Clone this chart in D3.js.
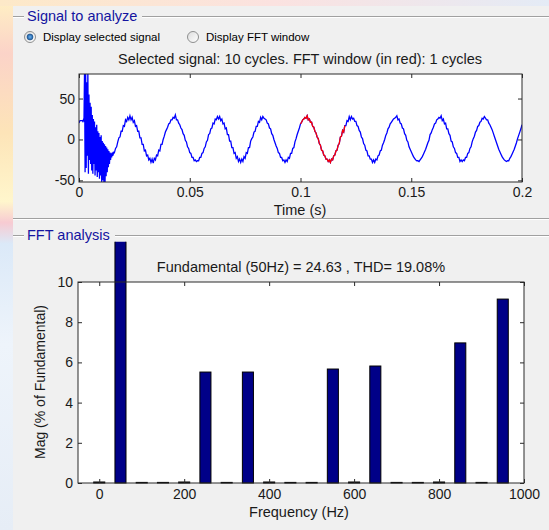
<!DOCTYPE html>
<html>
<head>
<meta charset="utf-8">
<script src="https://cdn.jsdelivr.net/npm/d3@7"></script>
<style>
  body { margin: 0; background: #f0f0f0; }
  svg { display: block; font-family: "Liberation Sans", Arial, sans-serif; }
</style>
</head>
<body>
<svg id="fig" width="549" height="530"></svg>
<script>
// ---- signal ----
// start-up transient, sampled every 0.25 ms from t = 0
var startupStep = 0.00025;
var startup = [
  20, 22, 23, 23, 23, 23, 23, 22, 24, 23,
  85, -40, 88, -35, 70, -20, 85, -42, 55, -25,
  45, -30, 40, -38, 30, -42, 25, -30, 22, -44,
  15, -38, 18, -46, 10, -40, 8, -48, 3, -44,
  5, -52, -2, -50, -4, -55, -6, -54, -8, -45,
  -10, -40, -12, -34, -14, -30, -16, -25, -17, -22,
  -16, -20, -15, -17
];
// steady part, sampled every 0.5 ms from t = 0.016
var steadyStart = 0.016;
var steadyStep = 0.0005;
var steady = [
  -16, -11, -9, -3,
  2, 3, 10, 10, 17, 16, 24, 22, 27, 24, 29, 24, 27, 21, 23, 16, 17, 10, 10, 2,
  2, -6, -6, -14, -13, -20, -19, -25, -23, -28, -24, -29, -23, -25, -19, -20, -13, -14, -6, -6,
  0, 4, 9, 12, 15, 19, 20, 24, 24, 27, 26, 30, 24, 24, 20, 18, 14, 12, 7, 5,
  -1, -3, -9, -11, -16, -17, -22, -22, -26, -25, -27, -26, -26, -22, -22, -17, -16, -11, -9, -3,
  -1, 6, 7, 13, 14, 20, 19, 25, 24, 28, 25, 28, 23, 25, 19, 20, 13, 14, 6, 6,
  -2, -2, -10, -10, -17, -16, -23, -21, -27, -24, -28, -24, -27, -21, -23, -16, -17, -10, -10, -2,
  1, 3, 9, 10, 16, 16, 22, 21, 27, 24, 28, 26, 25, 24, 20, 19, 14, 13, 7, 5,
  0, -4, -8, -11, -16, -17, -22, -22, -26, -25, -28, -25, -27, -22, -23, -17, -17, -11, -10, -3,
  1, 6, 10, 14, 19, 21, 24, 25, 27, 26, 29, 24, 25, 21, 21, 16, 15, 10, 8, 3,
  1, -5, -7, -13, -14, -19, -20, -24, -24, -27, -25, -28, -24, -25, -20, -19, -14, -13, -7, -5,
  3, 4, 11, 9, 17, 17, 23, 22, 28, 24, 28, 25, 26, 22, 22, 17, 16, 11, 9, 3,
  1, -5, -7, -13, -14, -20, -20, -24, -24, -28, -25, -28, -24, -25, -20, -19, -14, -13, -7, -4,
  0, 5, 8, 13, 15, 19, 21, 23, 25, 26, 27, 29, 24, 25, 20, 19, 14, 13, 7, 5,
  -1, -3, -9, -12, -15, -18, -21, -23, -25, -26, -26, -27, -25, -23, -21, -18, -15, -12, -8, -4,
  -1, 6, 8, 12, 15, 19, 20, 24, 25, 27, 26, 29, 23, 25, 19, 20, 13, 13, 7, 5,
  -2, -3, -9, -11, -16, -17, -22, -22, -27, -25, -27, -25, -26, -22, -22, -17, -16, -11, -9, -3,
  1, 4, 9, 11, 16, 17, 21, 22, 26, 25, 28, 26, 24, 24, 20, 18, 15, 12, 8, 4,
  0, -4, -8, -12, -15, -18, -21, -23, -25, -26, -27, -26, -26, -23, -21, -18, -15, -12, -8, -4,
  1, 5, 9, 13, 18
];
var fftWindow = [0.1, 0.12];
var timeTicks = [0, 0.05, 0.1, 0.15, 0.2];
var signalTicks = [-50, 0, 50];

// ---- FFT bars ----
var freqs = [0, 50, 100, 150, 200, 250, 300, 350, 400, 450,
             500, 550, 600, 650, 700, 750, 800, 850, 900, 950];
var mags = [0.05, 100, 0.03, 0.03, 0.05, 5.52, 0.03, 5.52, 0.05, 0.03,
            0.03, 5.67, 0.05, 5.82, 0.03, 0.03, 0.05, 6.97, 0.03, 9.15];
var freqTicks = [0, 200, 400, 600, 800, 1000];
var magTicks = [0, 2, 4, 6, 8, 10];

var mainTitle = "Selected signal: 10 cycles. FFT window (in red): 1 cycles";
var fftTitle = "Fundamental (50Hz) = 24.63 , THD= 19.08%";

var svg = d3.select("#fig");
var defs = svg.append("defs");

// backdrop behind the GUI panel
var side = defs.append("linearGradient").attr("id", "side")
  .attr("x1", 0).attr("y1", 0).attr("x2", 0).attr("y2", 1);
[["0", "#fff0c4"], ["0.1", "#fbd3c8"], ["0.25", "#fde4b8"], ["0.38", "#fff6cc"],
 ["0.42", "#f7cbd2"], ["0.46", "#dbe9f8"], ["0.65", "#eef4fb"], ["1", "#e6edf6"]]
  .forEach(s => side.append("stop").attr("offset", s[0]).attr("stop-color", s[1]));
var topg = defs.append("linearGradient").attr("id", "topg");
[["0", "#fde9c8"], ["0.5", "#fbe2e0"], ["1", "#e4ebf6"]]
  .forEach(s => topg.append("stop").attr("offset", s[0]).attr("stop-color", s[1]));

svg.append("rect").attr("width", 549).attr("height", 530).attr("fill", "url(#side)");
svg.append("rect").attr("width", 549).attr("height", 6).attr("fill", "url(#topg)");
svg.append("rect").attr("x", 13).attr("y", 6).attr("width", 536).attr("height", 524)
  .attr("fill", "#f0f0f0");

// group box frames
function etched(y, x0, x1) {
  svg.append("line").attr("x1", x0).attr("x2", x1).attr("y1", y + 0.5).attr("y2", y + 0.5)
    .attr("stroke", "#a0a0a0");
  svg.append("line").attr("x1", x0).attr("x2", x1).attr("y1", y + 1.5).attr("y2", y + 1.5)
    .attr("stroke", "#ffffff");
}
etched(16, 13, 24);
etched(16, 142, 549);
etched(218, 13, 549);
etched(235, 13, 24);
etched(235, 115, 549);

svg.append("text").attr("x", 27).attr("y", 21).text("Signal to analyze")
  .style("font-size", "14.5px").attr("fill", "#1414a0");
svg.append("text").attr("x", 27).attr("y", 240).text("FFT analysis")
  .style("font-size", "14.5px").attr("fill", "#1414a0");

// radio buttons
var rg = defs.append("radialGradient").attr("id", "dot");
rg.append("stop").attr("offset", "0").attr("stop-color", "#6db3f0");
rg.append("stop").attr("offset", "1").attr("stop-color", "#1a5a9e");
var rb = defs.append("linearGradient").attr("id", "rb")
  .attr("x1", 0).attr("y1", 0).attr("x2", 1).attr("y2", 1);
rb.append("stop").attr("offset", "0").attr("stop-color", "#dcdcdc");
rb.append("stop").attr("offset", "1").attr("stop-color", "#ffffff");

[[30, true, "Display selected signal"], [193, false, "Display FFT window"]].forEach(r => {
  svg.append("circle").attr("cx", r[0]).attr("cy", 37).attr("r", 5.5)
    .attr("fill", "url(#rb)").attr("stroke", "#8e8f8f");
  if (r[1]) {
    svg.append("circle").attr("cx", r[0]).attr("cy", 37).attr("r", 3)
      .attr("fill", "url(#dot)").attr("stroke", "#1d4f87").attr("stroke-width", 0.6);
  }
  svg.append("text").attr("x", r[0] + 13).attr("y", 41).text(r[2])
    .style("font-size", "11.5px").attr("fill", "#000");
});

// shared axes drawing: inside ticks on all four sides, box frame
function boxAxes(x, y, xTicks, yTicks, xPad, yPad) {
  var l = x.range()[0], r = x.range()[1], t = y.range()[1], b = y.range()[0];
  var fmt = d => String(d);
  var axes = [
    [d3.axisBottom(x).tickValues(xTicks).tickFormat(fmt).tickPadding(xPad), 0, b],
    [d3.axisTop(x).tickValues(xTicks).tickFormat(""), 0, t],
    [d3.axisLeft(y).tickValues(yTicks).tickFormat(fmt).tickPadding(yPad), l, 0],
    [d3.axisRight(y).tickValues(yTicks).tickFormat(""), r, 0]
  ];
  axes.forEach(a => {
    var g = svg.append("g").attr("transform", `translate(${a[1]},${a[2]})`)
      .call(a[0].tickSizeInner(-4).tickSizeOuter(0));
    g.select(".domain").remove();
    g.selectAll("line").attr("stroke", "#2a2a2a");
    g.selectAll("text").style("font-size", "14px").attr("fill", "#1a1a1a")
      .style("font-family", "'Liberation Sans', Arial, sans-serif");
  });
  svg.append("rect").attr("x", l).attr("y", t).attr("width", r - l).attr("height", b - t)
    .attr("fill", "none").attr("stroke", "#2a2a2a");
}

// ---- top plot: signal ----
var xT = d3.scaleLinear().domain([0, 0.2]).range([79, 522]);
var yS = d3.scaleLinear().domain([-52, 80]).range([182, 74]);

svg.append("rect").attr("x", 79).attr("y", 74).attr("width", 443).attr("height", 108)
  .attr("fill", "#fff");
defs.append("clipPath").attr("id", "clipSig").append("rect")
  .attr("x", 79).attr("y", 74).attr("width", 443).attr("height", 108);

var pts = startup.map((v, i) => ({ t: i * startupStep, v: v }))
  .concat(steady.map((v, i) => ({ t: steadyStart + i * steadyStep, v: v })));
var redPts = pts.filter(p => p.t >= fftWindow[0] - 1e-9 && p.t <= fftWindow[1] + 1e-9);

var line = d3.line().x(d => xT(d.t)).y(d => yS(d.v));
var sig = svg.append("g").attr("clip-path", "url(#clipSig)");
sig.append("path").datum(pts).attr("d", line)
  .attr("fill", "none").attr("stroke", "#0000ff").attr("stroke-width", 1.3);
sig.append("path").datum(redPts).attr("d", line)
  .attr("fill", "none").attr("stroke", "#ff0000").attr("stroke-width", 1.3);

boxAxes(xT, yS, timeTicks, signalTicks, 5, 4);

svg.append("text").attr("x", 300).attr("y", 64).attr("text-anchor", "middle")
  .style("font-size", "14.5px").attr("fill", "#1a1a1a").text(mainTitle);
svg.append("text").attr("x", 300).attr("y", 215).attr("text-anchor", "middle")
  .style("font-size", "14.5px").attr("fill", "#1a1a1a").text("Time (s)");

// ---- bottom plot: FFT ----
var xF = d3.scaleLinear().domain([-50, 1000]).range([78, 524]);
var yF = d3.scaleLinear().domain([0, 10]).range([483, 282]);
var barHalf = 13;

svg.append("rect").attr("x", 78).attr("y", 282).attr("width", 446).attr("height", 201)
  .attr("fill", "#fff");
defs.append("clipPath").attr("id", "clipBar").append("rect")
  .attr("x", 0).attr("y", yF(12)).attr("width", 549).attr("height", 483 - yF(12) + 1);

svg.append("g").attr("clip-path", "url(#clipBar)")
  .selectAll("rect").data(freqs).enter().append("rect")
    .attr("x", (d, i) => xF(d - barHalf))
    .attr("width", (d, i) => xF(d + barHalf) - xF(d - barHalf))
    .attr("y", (d, i) => yF(mags[i]))
    .attr("height", (d, i) => yF(0) - yF(mags[i]))
    .attr("fill", "#000088").attr("stroke", "#000").attr("stroke-width", 1);

boxAxes(xF, yF, freqTicks, magTicks, 6, 5);

svg.append("text").attr("x", 301).attr("y", 272).attr("text-anchor", "middle")
  .style("font-size", "14.5px").attr("fill", "#1a1a1a").text(fftTitle);
svg.append("text").attr("x", 299).attr("y", 517).attr("text-anchor", "middle")
  .style("font-size", "14.5px").attr("fill", "#1a1a1a").text("Frequency (Hz)");
svg.append("text").attr("transform", "translate(45,382) rotate(-90)")
  .attr("text-anchor", "middle")
  .style("font-size", "14px").attr("fill", "#1a1a1a").text("Mag (% of Fundamental)");
</script>
</body>
</html>
